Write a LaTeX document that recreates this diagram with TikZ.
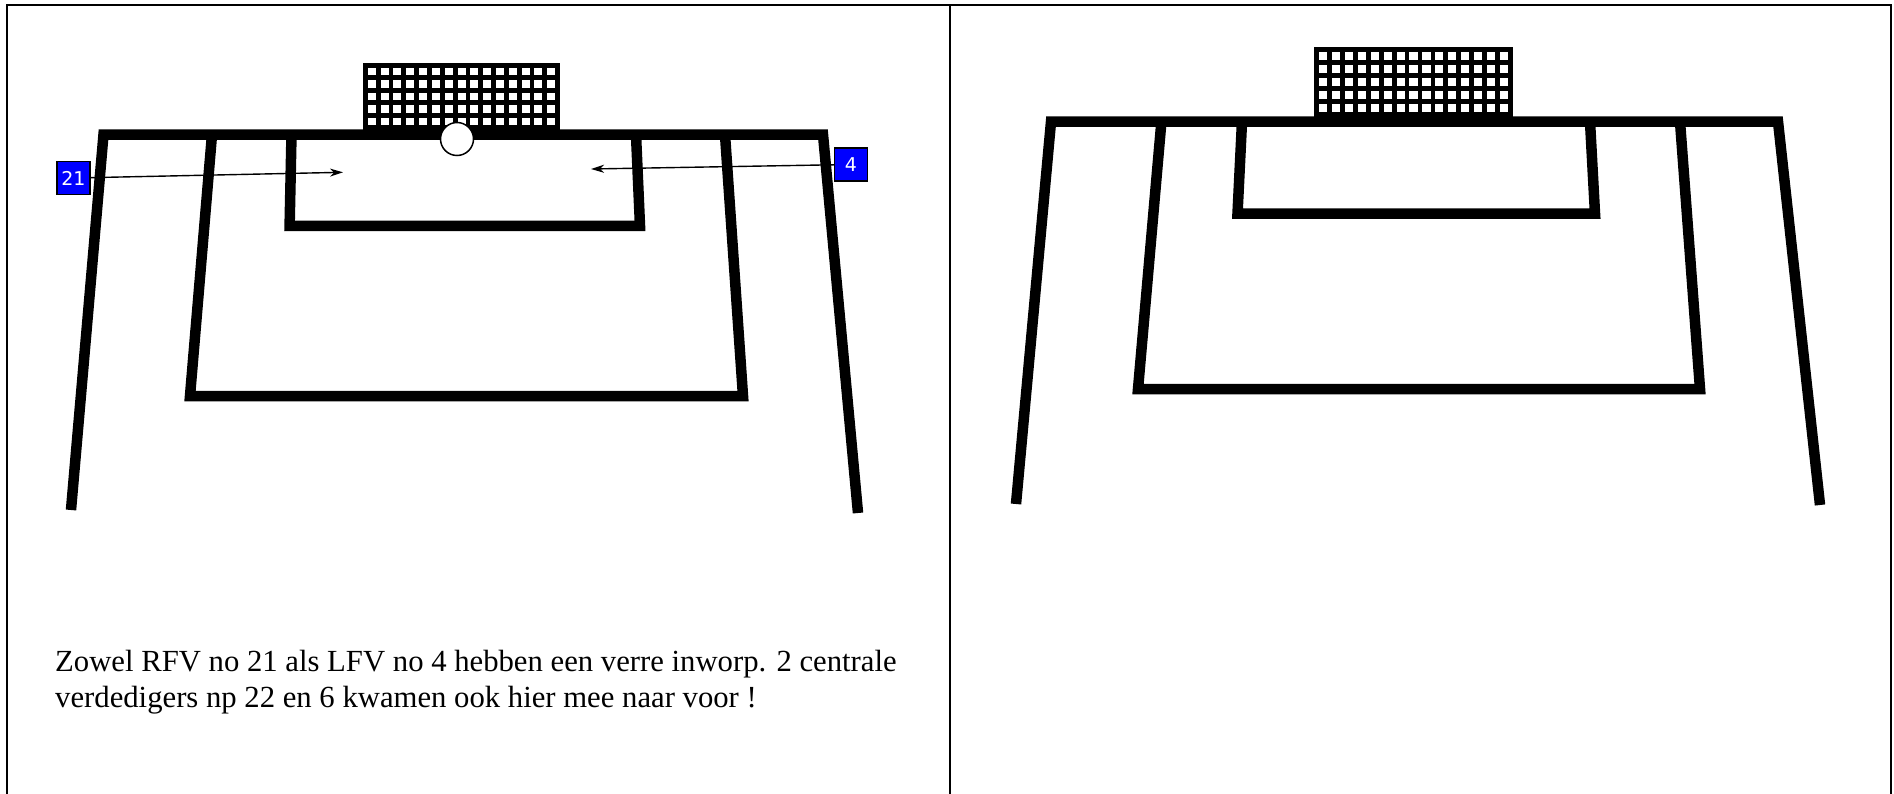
\documentclass[tikz,border=0pt]{standalone}
\usepackage{fontspec}
\setmainfont{Liberation Serif}
\newfontfamily\numfont{DejaVu Sans}
\usetikzlibrary{arrows.meta}
\newcommand\mynet[4]{%
  \fill[black] (#1,#2) rectangle (#3,#4);
  \pgfmathsetmacro\netw{((#3)-(#1)-4.8*16)/15}%
  \pgfmathsetmacro\neth{((#4)-(#2)-4.8*6)/5}%
  \foreach \i in {0,...,14}{\foreach \j in {0,...,4}{%
    \fill[white] ({#1+4.8+\i*(\netw+4.8)},{#2+4.8+\j*(\neth+4.8)}) rectangle ++(\netw,\neth);}}%
}
\begin{document}
\begin{tikzpicture}[x=1pt,y=-1pt,
  field/.style={line width=10.5pt,line join=miter,line cap=butt},
  frame/.style={line width=2.2pt,line join=miter},
  player/.style={draw=black,line width=1.5pt,fill=blue,text=white,
    font=\numfont\fontsize{19}{20}\selectfont,minimum width=33pt,
    minimum height=33pt,inner sep=0pt},
  pass/.style={line width=1.4pt,-{Stealth[length=13pt,width=8pt,inset=4pt]}},
  note/.style={anchor=base west,inner sep=0pt,font=\fontsize{30.7}{36}\selectfont},
  ballstyle/.style={circle,draw=black,line width=1.5pt,fill=white,minimum size=33pt,inner sep=0pt}
]
\useasboundingbox (0,0) rectangle (1894,794);
\fill[white] (0,0) rectangle (1894,794);
% table frame
\draw[frame] (6.7,794) -- (6.7,5) -- (1891,5) -- (1891,794);
\draw[frame] (950,5) -- (950,794);

% ---------- left diagram ----------
\mynet{363}{63}{560}{130}
\draw[field] (71,510) -- (103.5,134.7) -- (823,134.7) -- (858,513);
\draw[field] (212,134.7) -- (190,396) -- (743,396) -- (725,134.7);
\draw[field] (291.5,134.7) -- (289.6,226) -- (640,226) -- (636,134.7);
\node[ballstyle] (ball) at (457,139) {};
\node[player] (p21) at (73.5,178) {21};
\node[player] (p4) at (851,164.5) {4};
\coordinate (t21) at (343,172.3);
\coordinate (t4) at (591,169);
\draw[pass] (p21) -- (t21);
\draw[pass] (p4) -- (t4);
\node[note] (txt1) at (55,671) {Zowel RFV no 21 als LFV no 4 hebben een verre inworp. 2 centrale};
\node[note] (txt2) at (55,707) {verdedigers np 22 en 6 kwamen ook hier mee naar voor !};

% ---------- right diagram ----------
\mynet{1314}{47}{1513}{117}
\draw[field] (1016,504) -- (1051,121.7) -- (1778,121.7) -- (1820,505);
\draw[field] (1161.4,121.7) -- (1138,389) -- (1700,389) -- (1680,121.7);
\draw[field] (1242,121.7) -- (1237.5,213.7) -- (1595,213.7) -- (1590,121.7);
\end{tikzpicture}
\end{document}
